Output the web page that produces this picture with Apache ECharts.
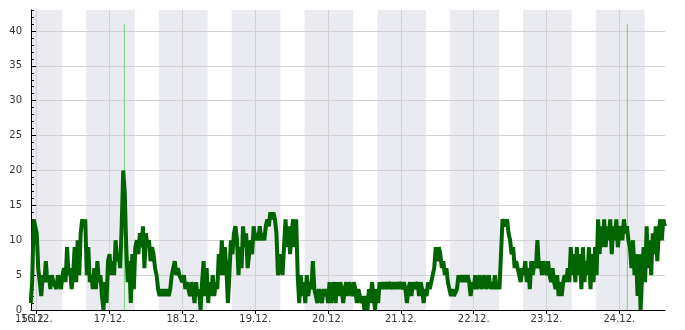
<!DOCTYPE html>
<html>
<head>
<meta charset="utf-8">
<script src="https://cdn.jsdelivr.net/npm/echarts@6/dist/echarts.min.js"></script>
<style>
  html, body { margin: 0; padding: 0; background: #fff; }
  #chart { width: 685px; height: 330px; }
</style>
</head>
<body>
<div id="chart"></div>
<script>
// ---------- data ----------
const seriesStart = '2023-12-15T22:00';
const stepMinutes = 30;
const windValues = [
  1,4,13,13,11,6,6,2,5,4,
  7,4,5,3,5,4,4,3,5,4,
  3,5,6,4,9,5,6,3,5,9,
  4,10,5,11,13,12,13,5,9,4,
  5,3,6,3,7,4,5,2,0,4,
  1,7,8,5,7,5,10,7,8,6,
  12,20,17,9,4,7,1,8,3,9,
  10,8,11,9,12,6,11,9,10,7,
  9,8,6,5,3,2,3,2,3,2,
  3,2,3,5,6,7,5,6,5,5,
  4,5,3,4,
  3,2,4,3,1,4,2,3, 0,4, 7,2,6, 1,4,2, 5,2,4,3, 8,5,10, 5,9,6, 1,5, 10,8,
  11,12,10, 5,9,6, 12,9, 11,6,8, 10,8, 12,10,11,10,12,10,11,10,
  12,13,12,14,13,14, 13,11, 5, 6,8,5,9, 13,9, 12,8,11, 13,9,13, 5,1,
  5,2,4,1,5,2,4,3, 7,3, 3,1,3,2,1,3,2,3,1, 4,1,3,4,1,4,2,4,3,1,3,
  4,2,4,3,2,4, 3,1,3,2,1,2, 0,2,0, 3,1,4,2,0,3,1,4,
  3,4,3,4,3,4,4,3,4,3,4,3,4,4,3, 4,3,1,3,4,2,4,3,3,4,2,4,3,1,3,2,4,
  3,4,5,6, 9,7,9,8,6, 7,5,6, 4,3,2,3,2,2, 3,5,4, 5,4,5,4,5,4, 2,4,3,
  5,3,4,5,3,4, 5,3,4,5,3,4,3,5,3,4,3, 8,13,
  13,12,13,11, 10,8, 9,6,7, 6,5,4,6,5, 7,4,6,3,7,5, 7,6,10,6, 7,5,7,6,5,7,
  5,4,6,4, 3,5,2,4,2,4, 5,4,6, 4,9,5,8,4,9, 5,8,3,9,4,7,5,9,3,8,4,9,5,
  13,8,12,9, 13,9,12,10,13,8,12,10,13,9,11,12,10, 13,11,12,10, 9,6,10,5,8,
  2,8,0,5, 9,4,12,6,10,5,11, 8,12,7,11, 13,10,13,12
];
const axisMinTime = '2023-12-15T22:07';
const axisMaxTime = '2023-12-24T15:03';
const dayTicks = ['2023-12-16T00:00','2023-12-17T00:00','2023-12-18T00:00','2023-12-19T00:00',
  '2023-12-20T00:00','2023-12-21T00:00','2023-12-22T00:00','2023-12-23T00:00','2023-12-24T00:00'];
const nightStarts = ['2023-12-15T16:16','2023-12-16T16:16','2023-12-17T16:16','2023-12-18T16:16',
  '2023-12-19T16:16','2023-12-20T16:16','2023-12-21T16:16','2023-12-22T16:16','2023-12-23T16:16','2023-12-24T16:16'];
const nightEnds = ['2023-12-16T08:20','2023-12-17T08:20','2023-12-18T08:20','2023-12-19T08:20',
  '2023-12-20T08:20','2023-12-21T08:20','2023-12-22T08:20','2023-12-23T08:20','2023-12-24T08:20','2023-12-25T08:20'];
const spikeTimes = ['2023-12-17T04:53', '2023-12-24T02:38'];
const spikeValues = [41, 41];
const yMajorTicks = [0, 5, 10, 15, 20, 25, 30, 35, 40];
const yMax = 43;

// ---------- build ----------
const T = s => Date.parse(s + ':00Z');
const t0 = T(seriesStart);
const lineData = windValues.map((v, i) => [t0 + i * stepMinutes * 60000, v]);
const xMin = T(axisMinTime), xMax = T(axisMaxTime);
const dayTickMs = dayTicks.map(T);
const nightData = nightStarts.map((s, i) => [T(s), T(nightEnds[i])]);
const yMinor = [];
for (let v = 0; v <= yMax; v++) if (yMajorTicks.indexOf(v) < 0) yMinor.push(v);

const fmtDay = v => {
  const d = new Date(v);
  const dd = String(d.getUTCDate()).padStart(2, '0');
  const mm = String(d.getUTCMonth() + 1).padStart(2, '0');
  return dd + '.' + mm + '.';
};

const font = { fontFamily: 'DejaVu Sans', fontSize: 10, color: '#333' };
const gridLine = { show: true, lineStyle: { color: '#d2d2d6', width: 1 } };

const chart = echarts.init(document.getElementById('chart'), null, { renderer: 'canvas' });
const series = [
  {
    type: 'custom',
    z: -1,
    silent: true,
    data: nightData,
    renderItem: function (params, api) {
      const p0 = api.coord([api.value(0), yMax]);
      const p1 = api.coord([api.value(1), 0]);
      const rect = echarts.graphic.clipRectByRect(
        { x: p0[0], y: p0[1], width: p1[0] - p0[0], height: p1[1] - p0[1] },
        { x: params.coordSys.x, y: params.coordSys.y, width: params.coordSys.width, height: params.coordSys.height }
      );
      return rect && { type: 'rect', shape: rect, style: { fill: '#eaebf0' } };
    },
    encode: { x: [0, 1] }
  }
];
spikeTimes.forEach((t, i) => {
  series.push({
    type: 'line', z: 2, silent: true, showSymbol: false, animation: false,
    lineStyle: { color: '#77d077', width: 1 },
    data: [[T(t), 0], [T(t), spikeValues[i]]]
  });
});
series.push({
  type: 'line', z: 3, silent: true, showSymbol: false, animation: false,
  lineStyle: { color: '#006400', width: 4 },
  data: lineData
});

chart.setOption({
  animation: false,
  backgroundColor: '#fff',
  grid: { left: 31, right: 20, top: 10, bottom: 20, containLabel: false },
  xAxis: [
    {
      type: 'value', min: xMin, max: xMax,
      axisLine: { show: true, lineStyle: { color: '#000', width: 1 } },
      axisTick: { show: true, customValues: dayTickMs, length: 4, lineStyle: { color: '#000' } },
      axisLabel: Object.assign({ customValues: dayTickMs, formatter: fmtDay, margin: 4 }, font),
      splitLine: gridLine
    },
    {
      type: 'value', min: xMin, max: xMax, position: 'bottom',
      axisLine: { show: false },
      axisTick: { show: false, customValues: [xMin] },
      axisLabel: Object.assign({ customValues: [xMin], formatter: fmtDay, margin: 4 }, font),
      splitLine: { show: false }
    }
  ],
  yAxis: [
    {
      type: 'value', min: 0, max: yMax,
      axisLine: { show: true, lineStyle: { color: '#000', width: 1 } },
      axisTick: { show: true, inside: true, customValues: yMajorTicks, length: 5, lineStyle: { color: '#000' } },
      axisLabel: Object.assign({ customValues: yMajorTicks, margin: 9 }, font),
      splitLine: gridLine
    },
    {
      type: 'value', min: 0, max: yMax, position: 'left',
      axisLine: { show: false },
      axisTick: { show: true, inside: true, customValues: yMinor, length: 3, lineStyle: { color: '#000' } },
      axisLabel: { show: false },
      splitLine: { show: false }
    }
  ],
  series: series
});
</script>
</body>
</html>
